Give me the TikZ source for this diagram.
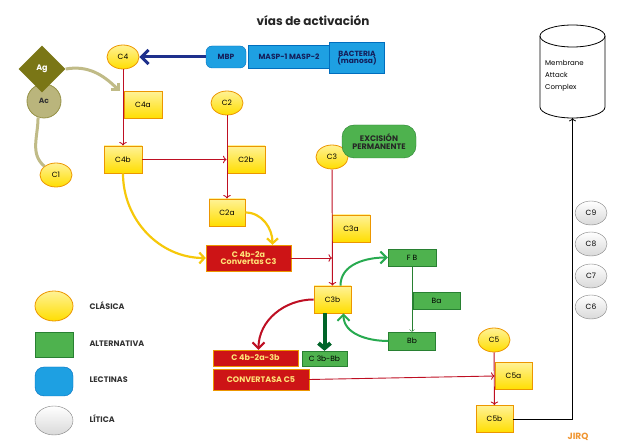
\documentclass[tikz,border=0pt]{standalone}
\usepackage{fontspec}
\setmainfont{Poppins}
\usetikzlibrary{positioning,shapes.geometric,arrows.meta}

\definecolor{yelfill}{RGB}{255,222,0}
\definecolor{yeltop}{RGB}{255,242,150}
\definecolor{yeldraw}{RGB}{236,150,0}
\definecolor{redfill}{RGB}{205,20,22}
\definecolor{redtext}{RGB}{255,228,120}
\definecolor{grnfill}{RGB}{78,178,78}
\definecolor{grndraw}{RGB}{40,128,50}
\definecolor{blufill}{RGB}{30,160,226}
\definecolor{bludraw}{RGB}{0,110,190}
\definecolor{blutext}{RGB}{20,30,90}
\definecolor{agfill}{RGB}{122,118,22}
\definecolor{acfill}{RGB}{186,181,124}
\definecolor{khaki}{RGB}{192,187,135}
\definecolor{mbparrow}{RGB}{30,48,140}
\definecolor{redline}{RGB}{190,15,35}
\definecolor{curveyel}{RGB}{246,200,10}
\definecolor{curvegrn}{RGB}{40,170,80}
\definecolor{darkgrn}{RGB}{0,100,40}
\definecolor{signo}{RGB}{240,150,50}

\tikzset{
  txt/.style={font=\fontsize{7.5}{8}\selectfont},
  yelbox/.style={txt, draw=yeldraw, thick, top color=yeltop, bottom color=yelfill, inner sep=0pt, minimum width=38pt, minimum height=27pt},
  yelell/.style={txt, ellipse, draw=yeldraw, thick, top color=yeltop, bottom color=yelfill, inner sep=0pt, minimum width=32pt, minimum height=24pt},
  redbox/.style={font=\fontsize{8}{7.5}\selectfont\bfseries, text=redtext, draw=yeldraw, fill=redfill, inner sep=0pt, align=center},
  grnbox/.style={txt, draw=grndraw, fill=grnfill, inner sep=0pt},
  blubox/.style={font=\fontsize{7.5}{7}\selectfont\bfseries, text=blutext, draw=bludraw, fill=blufill, inner sep=0pt, align=center},
  litell/.style={txt, ellipse, draw=gray, top color=white, bottom color=gray!30, inner sep=0pt, minimum width=32pt, minimum height=24pt},
  legtxt/.style={font=\fontsize{8}{9}\selectfont\bfseries, text=black!80, anchor=west},
  redarr/.style={->, redline, line width=0.9pt},
}

\begin{document}
\begin{tikzpicture}[x=1pt,y=-1pt]
  \useasboundingbox (0,0) rectangle (624,443);

  % Title
  \node (title) [font=\fontsize{12}{14}\selectfont\bfseries, text=black!85] at (313,21) {vías de activación};

  % Lectin pathway (top)
  \node (c4) [yelell] at (123,57) {C4};
  \node (mbp) [blubox, rounded corners=6pt, minimum width=40pt, minimum height=22pt] at (226,57) {MBP};
  \node (masp) [blubox, minimum width=81pt, minimum height=23pt] at (289,57) {MASP-1 MASP-2};
  \node (bact) [blubox, minimum width=55pt, minimum height=31pt] at (357,58) {BACTERIA\\(manosa)};
  \draw[-{Straight Barb[length=7pt,width=14pt]}, mbparrow, line width=3pt] (mbp.west) -- (c4.east);

  % Antigen-antibody
  \node (ac) [circle, draw=agfill!80, thick, fill=acfill, minimum size=34pt, inner sep=0pt] at (44,101) {};
  \node (ag) [diamond, fill=agfill, minimum size=47pt, inner sep=0pt, text=white, font=\fontsize{8}{9}\selectfont\bfseries] at (42,69) {Ag};
  \node (actxt) at (44,101) [font=\fontsize{7.5}{8}\selectfont\bfseries, text=black!80] {Ac}; % label drawn on top
  \node (c1) [yelell] at (56,175) {C1};

  % Classical pathway
  \node (c4a) [yelbox] at (143,105) {C4a};
  \node (c4b) [yelbox] at (123,159.5) {C4b};
  \node (c2) [yelell] at (227,103) {C2};
  \node (c2b) [yelbox] at (246,159.5) {C2b};
  \node (c2a) [yelbox, minimum width=36pt] at (227,212.5) {C2a};
  \node (c4b2a) [redbox, minimum width=85pt, minimum height=26pt] at (248.5,258) {C 4b-2a\\Convertas C3};

  % C3 and alternative pathway
  \node (c3) [yelell] at (332,157) {C3};
  \node (excis) [grnbox, rounded corners=12pt, minimum width=74pt, minimum height=33pt, align=center, font=\fontsize{8}{7.5}\selectfont\bfseries, text=black!85] at (379,141.5) {EXCISIÓN\\PERMANENTE};
  \node (c3a) [yelbox] at (351,228.5) {C3a};
  \node (c3b) [yelbox, minimum width=37pt] at (332.5,299.5) {C3b};
  \node (fb) [grnbox, minimum width=48pt, minimum height=17pt] at (412,257.5) {F B};
  \node (ba) [grnbox, minimum width=47pt, minimum height=17pt] at (436.5,300.5) {Ba};
  \node (bb) [grnbox, minimum width=47pt, minimum height=18pt] at (412,341) {Bb};
  \node (c3bbb) [grnbox, minimum width=45pt, minimum height=15pt] at (324.5,358.5) {C 3b-Bb};
  \node (c4b2a3b) [redbox, minimum width=85pt, minimum height=16pt] at (255.5,358) {C 4b-2a-3b};
  \node (cvc5) [redbox, minimum width=96pt, minimum height=21pt] at (261,379.5) {CONVERTASA C5};

  % C5 and lytic pathway
  \node (c5) [yelell] at (494,340) {C5};
  \node (c5a) [yelbox, minimum width=37pt] at (513.5,376) {C5a};
  \node (c5b) [yelbox, minimum width=37pt] at (494.5,419) {C5b};
  \node (c9) [litell] at (591,213) {C9};
  \node (c8) [litell] at (591,244) {C8};
  \node (c7) [litell] at (591,276) {C7};
  \node (c6) [litell] at (591,307) {C6};

  % Membrane attack complex (cylinder drawn by hand)
  \draw[thick, fill=white] (540,36) -- (540,107) arc[start angle=180, end angle=0, x radius=32.5, y radius=11]
    -- (605,36) arc[start angle=0, end angle=-180, x radius=32.5, y radius=11] -- cycle;
  \draw[thick] (540,36) arc[start angle=180, end angle=0, x radius=32.5, y radius=11];
  \node (mac) [anchor=west, align=left, inner sep=0pt, font=\fontsize{7}{12}\selectfont] at (545,76) {Membrane\\Attack\\Complex};
  \coordinate (macbot) at (572.5,118);

  % Connectors
  \draw[-{Straight Barb[length=5pt,width=10pt]}, khaki, line width=3pt] (ag.east) to[out=10,in=135] ([xshift=-4pt]c4a.north west);
  \draw[khaki, line width=3pt] (ac.250) to[out=-90,in=140] (c1.north west);
  \draw[redarr] (c4) -- (c4b);
  \draw[redarr] (c4b) -- (c2b.west);
  \draw[redarr] (c2) -- (c2a);
  \draw[-{Straight Barb[length=5pt,width=11pt]}, curveyel, line width=2.2pt] (c4b.south) to[out=-90,in=180] (c4b2a.west);
  \draw[-{Straight Barb[length=5pt,width=11pt]}, curveyel, line width=2.2pt] (c2a.east) to[out=0,in=90] ([xshift=24pt]c4b2a.north);
  \draw[redarr] (c4b2a.east) -- (c4b2a.east -| c3);
  \draw[redarr] (c3) -- (c3b);
  \draw[-{Straight Barb[length=6pt,width=12pt]}, curvegrn, line width=2pt] ([xshift=8pt]c3b.north) to[out=90,in=180] (fb.west);
  \draw[->, grndraw] (fb) -- (bb);
  \draw[-{Straight Barb[length=6pt,width=12pt]}, curvegrn, line width=2pt] (bb.west) to[out=180,in=-90] ([xshift=11pt]c3b.south);
  \draw[-{Straight Barb[length=5pt,width=12pt]}, darkgrn, line width=4pt] (c3b.south -| c3bbb) -- (c3bbb.north);
  \draw[-{Straight Barb[length=6pt,width=12pt]}, redline, line width=2pt] (c3b.west) to[out=180,in=90] ([xshift=3pt]c4b2a3b.north);
  \draw[redarr] (cvc5.east) -- (c5a.west);
  \draw[redarr] (c5) -- (c5b);
  \draw[->, black, thick] (c5b.east) -| (macbot);

  % Legend
  \node (legcla) [yelell, minimum width=38pt, minimum height=30pt] at (54,306) {};
  \node [legtxt] at (86,306) {CLÁSICA};
  \node (legalt) [grnbox, minimum width=38pt, minimum height=25pt] at (54,344.5) {};
  \node [legtxt] at (86,344) {ALTERNATIVA};
  \node (leglec) [blubox, rounded corners=9pt, minimum width=38pt, minimum height=29pt] at (54,381.5) {};
  \node [legtxt] at (86,380) {LECTINAS};
  \node (leglit) [litell, minimum width=38pt, minimum height=29pt] at (54,420.5) {};
  \node [legtxt] at (86,419) {LÍTICA};

  % Signature
  \node (jirq) [font=\fontsize{9}{10}\selectfont\bfseries, text=signo] at (578,437) {JIRQ};
\end{tikzpicture}
\end{document}
